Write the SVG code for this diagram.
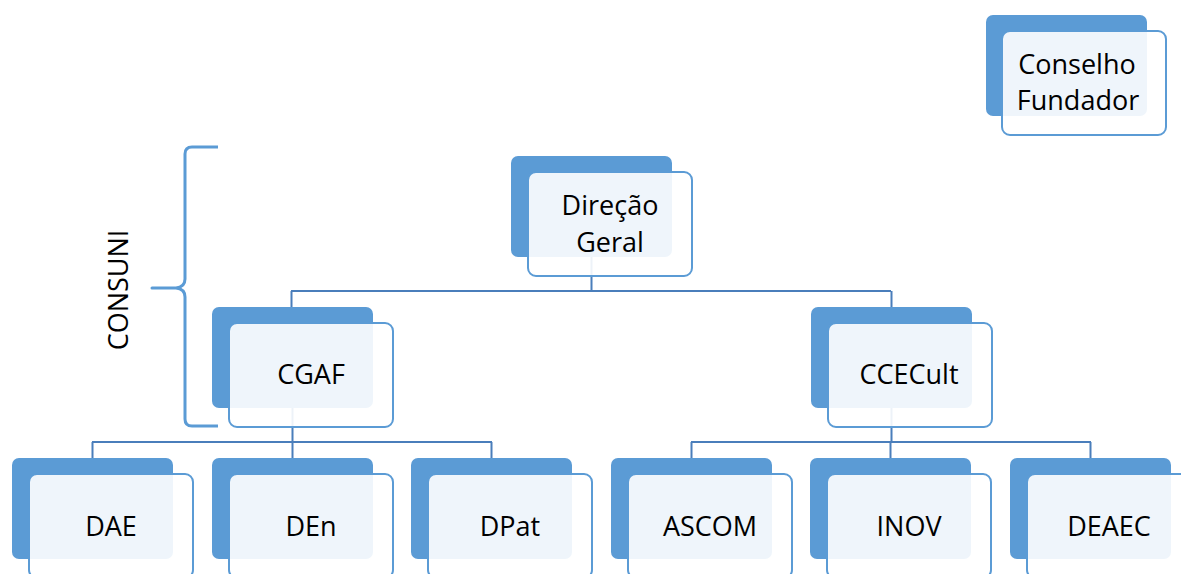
<svg xmlns="http://www.w3.org/2000/svg" width="1181" height="574" viewBox="0 0 1181 574">
  <style>
    .back { fill: #5B9BD5; }
    .front { fill: #FFFFFF; fill-opacity: 0.9; stroke: #5B9BD5; stroke-width: 2; }
    .label { font-family: "Open Sans", "Liberation Sans", sans-serif; font-size: 27px; fill: #000000; text-anchor: middle; }
    .conn { fill: none; stroke: #4A7EBB; stroke-width: 2; }
    .brace { fill: none; stroke: #5B9BD5; stroke-width: 3; stroke-linejoin: round; }
  </style>
  <defs>
    <!-- stacked card: solid back plate plus translucent front card -->
    <rect id="plate" class="back" width="161" height="101" rx="7"/>
  </defs>
  <rect width="1181" height="574" fill="#FFFFFF"/>

  <!-- back plates first so connectors sit between plates and front cards -->
  <g id="plates">
    <use href="#plate" x="986" y="15"/>
    <use href="#plate" x="511" y="156"/>
    <use href="#plate" x="212" y="307"/>
    <use href="#plate" x="811" y="307"/>
    <use href="#plate" x="12" y="458"/>
    <use href="#plate" x="212" y="458"/>
    <use href="#plate" x="411" y="458"/>
    <use href="#plate" x="611" y="458"/>
    <use href="#plate" x="810" y="458"/>
    <use href="#plate" x="1010" y="458"/>
  </g>

  <g id="connectors">
    <path class="conn" d="M591.5,257 V291 M291,291 H891 M291.5,291 V307 M891.5,291 V307"/>
    <path class="conn" d="M292.5,408 V442 M92,442 H492 M92.5,442 V458 M292.5,442 V458 M491.5,442 V458"/>
    <path class="conn" d="M891.5,408 V442 M691,442 H1091 M691.5,442 V458 M890.5,442 V458 M1090.5,442 V458"/>
  </g>

  <g id="consuni">
    <path class="brace" d="M218,147 H192 Q185,147 185,154 V279 Q185,287 176,288 H152 H176 Q185,289 185,297 V419 Q185,426 192,426 H218"/>
    <text class="label" x="128" y="290" transform="rotate(-90 128 290)">CONSUNI</text>
  </g>

  <g id="conselho-fundador">
    <rect class="front" x="1002" y="31" width="164" height="104" rx="8"/>
    <text class="label" x="1077" y="74">Conselho</text>
    <text class="label" x="1078" y="110">Fundador</text>
  </g>

  <g id="direcao-geral">
    <rect class="front" x="528" y="172" width="164" height="104" rx="8"/>
    <text class="label" x="610" y="215">Direção</text>
    <text class="label" x="610" y="252">Geral</text>
  </g>

  <g id="cgaf">
    <rect class="front" x="229" y="323" width="164" height="104" rx="8"/>
    <text class="label" x="311" y="384">CGAF</text>
  </g>

  <g id="ccecult">
    <rect class="front" x="828" y="323" width="164" height="104" rx="8"/>
    <text class="label" x="909" y="384">CCECult</text>
  </g>

  <g id="dae">
    <rect class="front" x="29" y="474" width="164" height="104" rx="8"/>
    <text class="label" x="111" y="536">DAE</text>
  </g>

  <g id="den">
    <rect class="front" x="229" y="474" width="164" height="104" rx="8"/>
    <text class="label" x="311" y="536">DEn</text>
  </g>

  <g id="dpat">
    <rect class="front" x="428" y="474" width="164" height="104" rx="8"/>
    <text class="label" x="510" y="536">DPat</text>
  </g>

  <g id="ascom">
    <rect class="front" x="628" y="474" width="164" height="104" rx="8"/>
    <text class="label" x="710" y="536">ASCOM</text>
  </g>

  <g id="inov">
    <rect class="front" x="827" y="474" width="164" height="104" rx="8"/>
    <text class="label" x="909" y="536">INOV</text>
  </g>

  <g id="deaec">
    <rect class="front" x="1027" y="474" width="164" height="104" rx="8"/>
    <text class="label" x="1109" y="536">DEAEC</text>
  </g>
</svg>
